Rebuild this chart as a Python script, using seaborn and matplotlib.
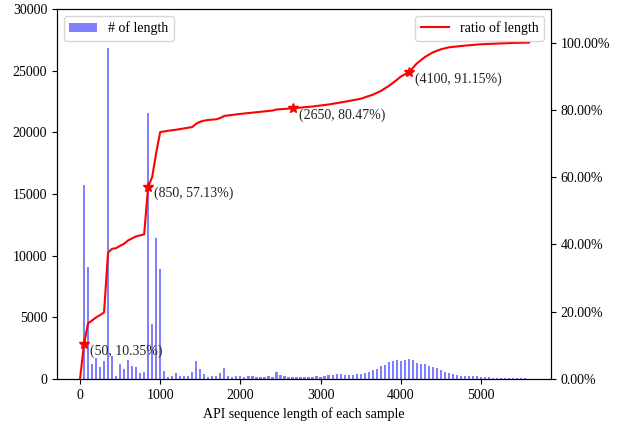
import matplotlib
matplotlib.use("Agg")
import matplotlib.pyplot as plt
from matplotlib.ticker import FuncFormatter
import seaborn as sns
import numpy as np

# histogram: bin centres (API sequence length) and counts
bin_centers = list(range(50, 5600, 50))
counts = [
    15700, 9100, 1240, 1680, 980, 1420, 26800, 1900, 250, 1220,      # 50-500
    790, 1540, 1050, 970, 490, 590, 21600, 4500, 11400, 8950,        # 550-1000
    650, 160, 240, 490, 220, 240, 240, 570, 1460, 810,               # 1050-1500
    420, 200, 240, 240, 480, 890, 240, 170, 240, 240,                # 1550-2000
    160, 240, 240, 160, 160, 160, 240, 160, 570, 350,                # 2050-2500
    240, 170, 170, 170, 170, 170, 170, 170, 240, 190,                # 2550-3000
    240, 320, 320, 400, 400, 320, 320, 320, 400, 400,                # 3050-3500
    490, 570, 730, 810, 1050, 1130, 1350, 1460, 1540, 1490,          # 3550-4000
    1540, 1620, 1540, 1300, 1220, 1220, 1050, 1000, 900, 730,        # 4050-4500
    570, 490, 400, 320, 240, 240, 240, 240, 240, 160,                # 4550-5000
    160, 160, 80, 80, 80, 80, 80, 80, 80, 80, 80,                    # 5050-5550
]

# cumulative ratio line
line_x = [0, 50, 100, 150, 200, 250, 300, 350, 400, 450, 500, 550, 600, 650,
          700, 750, 800, 850, 900, 950, 1000, 1050, 1100, 1200, 1300, 1400,
          1450, 1500, 1550, 1600, 1700, 1750, 1800, 1900, 2000, 2200, 2400,
          2450, 2500, 2650, 2900, 3100, 3300, 3500, 3650, 3750, 3850, 3950,
          4000, 4100, 4200, 4300, 4400, 4500, 4600, 4800, 5000, 5200, 5400, 5600]
line_ratio = [0.0, 10.35, 16.5, 17.4, 18.3, 19.0, 19.8, 37.6, 38.7, 38.9, 39.6,
              40.2, 41.2, 41.8, 42.4, 42.7, 43.0, 57.13, 60.0, 67.2, 73.4, 73.6,
              73.8, 74.1, 74.5, 74.9, 75.9, 76.5, 76.8, 77.0, 77.2, 77.6, 78.2,
              78.5, 78.8, 79.3, 79.8, 80.1, 80.2, 80.47, 81.0, 81.6, 82.4, 83.3,
              84.5, 85.6, 87.1, 88.9, 89.9, 91.15, 93.8, 95.7, 97.1, 98.0, 98.6,
              99.1, 99.5, 99.7, 99.9, 100.0]

# highlighted points
mark_x = [50, 850, 2650, 4100]
mark_ratio = [10.35, 57.13, 80.47, 91.15]

plt.rcParams['font.family'] = ['Liberation Serif', 'DejaVu Serif']
plt.rcParams['font.size'] = 10

fig = plt.figure(figsize=(6.24, 4.26), dpi=100)
ax = fig.add_axes([0.0913, 0.1103, 0.7917, 0.8687])

edges = [c - 25 for c in bin_centers] + [bin_centers[-1] + 25]
sns.histplot(x=bin_centers, weights=counts, bins=edges, shrink=0.55,
             color='blue', alpha=0.5, linewidth=0, ax=ax)
ax.set_ylim(0, 30000)
ax.set_xlim(-287, 5873)
ax.set_xticks([0, 1000, 2000, 3000, 4000, 5000])
ax.set_yticks([0, 5000, 10000, 15000, 20000, 25000, 30000])
ax.set_ylabel('')
ax.set_xlabel('API sequence length of each sample')
bars = ax.containers[0]
ax.legend([bars], ['# of length'], loc='upper left')

ax2 = ax.twinx()
ratio_frac = [r / 100 for r in line_ratio]
sns.lineplot(x=line_x, y=ratio_frac, color='red', linewidth=1.5, ax=ax2,
             label='ratio of length')
ax2.plot([x for x in mark_x], [r / 100 for r in mark_ratio], linestyle='none',
         marker='*', color='red', markersize=7)
for x, r in zip(mark_x, mark_ratio):
    ax2.annotate(f'({x}, {r:.2f}%)', xy=(x, r / 100), xytext=(4.5, -5),
                 textcoords='offset points', ha='left', va='center',
                 fontsize=10, color='#222222')
ax2.set_ylim(0, 1.1)
ax2.set_yticks([0, 0.2, 0.4, 0.6, 0.8, 1.0])
ax2.yaxis.set_major_formatter(FuncFormatter(lambda v, p: f'{v * 100:.2f}%'))
ax2.set_ylabel('')
ax2.legend(loc='upper right')
ax2.set_xlim(-287, 5873)

fig.savefig('out.png', dpi=100)
